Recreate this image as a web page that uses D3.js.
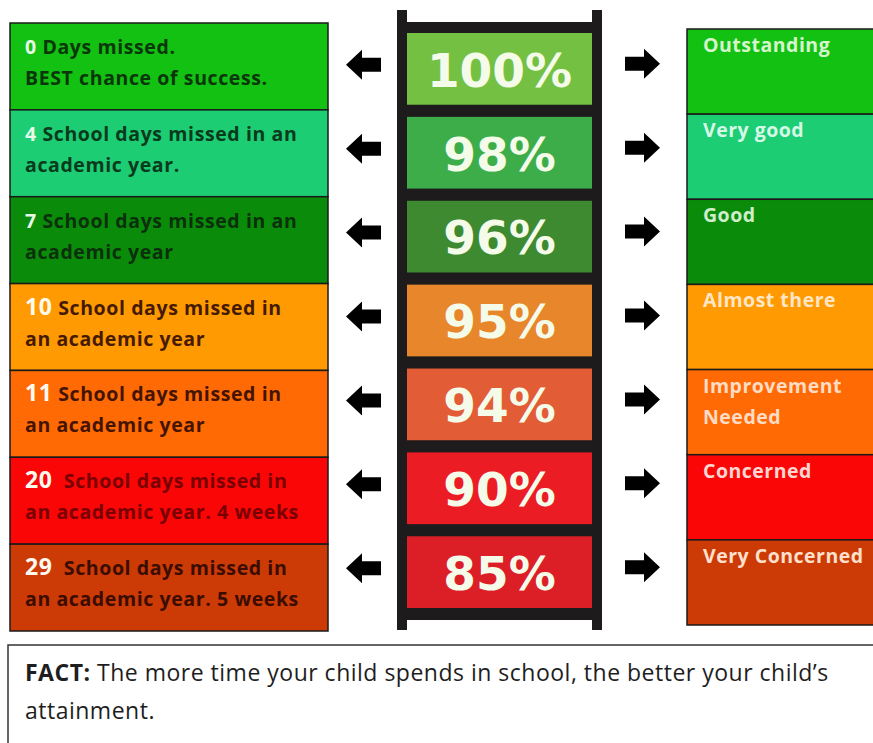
<!DOCTYPE html>
<html>
<head>
<meta charset="utf-8">
<script src="https://cdn.jsdelivr.net/npm/d3@7"></script>
<style>
  html, body { margin: 0; padding: 0; background: #ffffff; }
  svg { display: block; }
</style>
</head>
<body>
<div id="chart"></div>
<script>
// ---------------- data ----------------
const percents = ["100%", "98%", "96%", "95%", "94%", "90%", "85%"];
const daysMissed = ["0", "4", "7", "10", "11", "20", "29"];
const leftLine1 = [" Days missed.", " School days missed in an", " School days missed in an",
  " School days missed in", " School days missed in", "  School days missed in", "  School days missed in"];
const leftLine2 = ["BEST chance of success.", "academic year.", "academic year",
  "an academic year", "an academic year", "an academic year. 4 weeks", "an academic year. 5 weeks"];
const ratings = [["Outstanding"], ["Very good"], ["Good"], ["Almost there"],
  ["Improvement", "Needed"], ["Concerned"], ["Very Concerned"]];
const bandColors = ["#12c112", "#1ccd74", "#0a8c0a", "#ff9a02", "#ff6a05", "#fb0606", "#cc3a06"];
const textColors = ["#0a360a", "#0a3a1c", "#0b300b", "#451a00", "#451400", "#780000", "#3a0d00"];
const ladderColors = ["#74c043", "#3dad4a", "#3d8a31", "#e8862b", "#e25c36", "#ec1c24", "#dc1f27"];
const ratingColors = ["#d6f5cc", "#d6f8e6", "#d0eecc", "#ffe6c6", "#ffdcc4", "#ffd6d0", "#ffe0cc"];
const factBold = "FACT:";
const factLines = [" The more time your child spends in school, the better your child\u2019s", "attainment."];

// ---------------- layout ----------------
const W = 873, H = 743;
const idx = d3.range(percents.length);

const svg = d3.select("#chart").append("svg")
  .attr("width", W).attr("height", H)
  .attr("viewBox", `0 0 ${W} ${H}`);

svg.append("rect").attr("width", W).attr("height", H).attr("fill", "#fff");

const yLeft = d3.scaleBand().domain(idx).range([23, 631]);
const yRight = d3.scaleBand().domain(idx).range([29, 625]);
const yLadder = d3.scaleBand().domain(idx).range([33, 608]).paddingInner(0.145);

const dark = "#1d1b1c";
const sans = "'Open Sans', 'Noto Sans', sans-serif";

// ----- left boxes -----
const left = svg.append("g");
left.selectAll("rect").data(idx).join("rect")
  .attr("x", 10).attr("y", i => yLeft(i))
  .attr("width", 318).attr("height", yLeft.bandwidth())
  .attr("fill", i => bandColors[i])
  .attr("stroke", "#1a1a1a").attr("stroke-width", 1.5);

const lt = left.selectAll("text.l1").data(idx).join("text")
  .attr("class", "l1")
  .attr("x", 25).attr("y", i => yLeft(i) + 31)
  .attr("font-family", sans)
  .attr("font-weight", "bold")
  .attr("letter-spacing", 0.6)
  .attr("font-size", 19.5);
lt.append("tspan")
  .attr("fill", i => i < 3 ? "#e8fbe8" : "#fffaf0")
  .attr("font-size", i => i < 3 ? 19.5 : 23)
  .text(i => daysMissed[i]);
lt.append("tspan")
  .attr("fill", i => textColors[i])
  .style("white-space", "pre")
  .text(i => leftLine1[i]);

left.selectAll("text.l2").data(idx).join("text")
  .attr("class", "l2")
  .attr("x", 25).attr("y", i => yLeft(i) + 62)
  .attr("font-family", sans)
  .attr("font-weight", "bold")
  .attr("letter-spacing", 0.6)
  .attr("font-size", 19.5)
  .attr("fill", i => textColors[i])
  .text(i => leftLine2[i]);

// ----- ladder -----
const lad = svg.append("g");
const lx0 = 397, lx1 = 602, rail = 10;
lad.append("rect").attr("x", lx0).attr("y", 22).attr("width", lx1 - lx0).attr("height", 598)
  .attr("fill", dark);
lad.append("rect").attr("x", lx0).attr("y", 10).attr("width", rail).attr("height", 620).attr("fill", dark);
lad.append("rect").attr("x", lx1 - rail).attr("y", 10).attr("width", rail).attr("height", 620).attr("fill", dark);
lad.selectAll("rect.cell").data(idx).join("rect")
  .attr("class", "cell")
  .attr("x", lx0 + rail).attr("y", i => yLadder(i))
  .attr("width", lx1 - lx0 - 2 * rail).attr("height", yLadder.bandwidth())
  .attr("fill", i => ladderColors[i]);
lad.selectAll("text").data(idx).join("text")
  .attr("x", (lx0 + lx1) / 2)
  .attr("y", i => yLadder(i) + yLadder.bandwidth() / 2)
  .attr("dy", "0.38em")
  .attr("text-anchor", "middle")
  .attr("font-family", "'DejaVu Sans', Verdana, sans-serif")
  .attr("font-weight", "bold")
  .attr("font-size", 47)
  .attr("fill", "#f5fbe9")
  .text(i => percents[i]);

// ----- arrows -----
function arrowPath(tipX, cy, dir) {
  // dir = -1 : pointing left, +1 : pointing right
  const len = 35, headLen = 16, headH = 15, shaftH = 7;
  const p = d3.path();
  const bx = tipX - dir * headLen, tx = tipX - dir * len;
  p.moveTo(tipX, cy);
  p.lineTo(bx, cy - headH);
  p.lineTo(bx, cy - shaftH);
  p.lineTo(tx, cy - shaftH);
  p.lineTo(tx, cy + shaftH);
  p.lineTo(bx, cy + shaftH);
  p.lineTo(bx, cy + headH);
  p.closePath();
  return p.toString();
}
const arrows = svg.append("g").attr("fill", "#000");
arrows.selectAll("path.la").data(idx).join("path")
  .attr("class", "la")
  .attr("d", i => arrowPath(346, yLadder(i) + yLadder.bandwidth() / 2 - 4, -1));
arrows.selectAll("path.ra").data(idx).join("path")
  .attr("class", "ra")
  .attr("d", i => arrowPath(660, yLadder(i) + yLadder.bandwidth() / 2 - 5, 1));

// ----- right boxes -----
const right = svg.append("g");
right.selectAll("rect").data(idx).join("rect")
  .attr("x", 687).attr("y", i => yRight(i))
  .attr("width", 200).attr("height", yRight.bandwidth())
  .attr("fill", i => bandColors[i])
  .attr("stroke", "#1a1a1a").attr("stroke-width", 1.5);
right.selectAll("text").data(idx).join("text")
  .attr("x", 703).attr("y", i => yRight(i) + 23)
  .attr("font-family", sans)
  .attr("font-weight", "bold")
  .attr("letter-spacing", 0.5)
  .attr("font-size", 19.5)
  .attr("fill", i => ratingColors[i])
  .each(function (i) {
    d3.select(this).selectAll("tspan").data(ratings[i]).join("tspan")
      .attr("x", 703)
      .attr("dy", (d, k) => k === 0 ? 0 : 31)
      .text(d => d);
  });

// ----- fact box -----
const fact = svg.append("g");
fact.append("rect").attr("x", 8).attr("y", 645).attr("width", 880).attr("height", 120)
  .attr("fill", "#fff").attr("stroke", "#333").attr("stroke-width", 1.5);
const f1 = fact.append("text").attr("x", 25).attr("y", 681)
  .attr("font-family", sans)
  .attr("letter-spacing", 0.5)
  .attr("font-size", 23).attr("fill", "#1e1e1e");
f1.append("tspan").attr("font-weight", "bold").text(factBold);
f1.append("tspan").text(factLines[0]);
fact.append("text").attr("x", 25).attr("y", 719)
  .attr("font-family", sans)
  .attr("letter-spacing", 0.5)
  .attr("font-size", 23).attr("fill", "#1e1e1e")
  .text(factLines[1]);
</script>
</body>
</html>
